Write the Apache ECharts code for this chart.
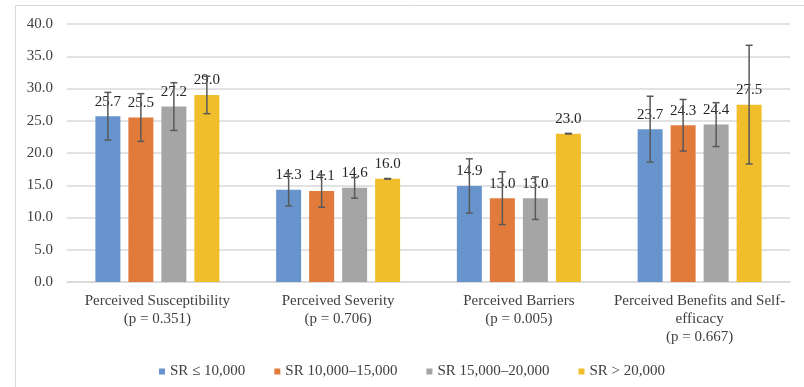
<!DOCTYPE html>
<html>
<head>
<meta charset="utf-8">
<script src="https://cdn.jsdelivr.net/npm/echarts@6/dist/echarts.min.js"></script>
<style>
  html, body { margin: 0; padding: 0; background: #fff; }
  #chart { width: 804px; height: 387px; }
</style>
</head>
<body>
<div id="chart"></div>
<script>
// Health-belief domains, mean scores by SR group, with ± SD error bars
const categories = [
  'Perceived Susceptibility\n(p = 0.351)',
  'Perceived Severity\n(p = 0.706)',
  'Perceived Barriers\n(p = 0.005)',
  'Perceived Benefits and Self-\nefficacy\n(p = 0.667)'
];
const groupNames = ['SR \u2264 10,000', 'SR 10,000\u201315,000', 'SR 15,000\u201320,000', 'SR > 20,000'];
const meansSR1 = [25.7, 14.3, 14.9, 23.7];
const meansSR2 = [25.5, 14.1, 13.0, 24.3];
const meansSR3 = [27.2, 14.6, 13.0, 24.4];
const meansSR4 = [29.0, 16.0, 23.0, 27.5];
const sdSR1 = [3.7, 2.5, 4.2, 5.1];
const sdSR2 = [3.7, 2.5, 4.1, 4.0];
const sdSR3 = [3.7, 1.6, 3.3, 3.4];
const sdSR4 = [2.9, 0.05, 0.05, 9.2];
const yTicks = [0, 5, 10, 15, 20, 25, 30, 35, 40];

const means = [meansSR1, meansSR2, meansSR3, meansSR4];
const sds = [sdSR1, sdSR2, sdSR3, sdSR4];
const colors = ['#6794CC', '#E07B3C', '#A5A5A5', '#F0BE2A'];

const BAR_W = 25;
const BAR_GAP = 8;
const FONT = '"Liberation Serif", "Times New Roman", serif';

const chart = echarts.init(document.getElementById('chart'), null, { renderer: 'canvas' });

const barSeries = means.map((vals, i) => ({
  name: groupNames[i],
  type: 'bar',
  data: vals,
  barWidth: BAR_W,
  barGap: (BAR_GAP / BAR_W * 100) + '%',
  itemStyle: { color: colors[i] },
  label: {
    show: true,
    position: 'top',
    distance: 7,
    formatter: p => p.value.toFixed(1),
    fontFamily: FONT,
    fontSize: 15,
    color: '#262626'
  },
  z: 2
}));

const errorSeries = means.map((vals, i) => ({
  type: 'custom',
  name: groupNames[i],
  data: vals.map((m, k) => [k, m - sds[i][k], m + sds[i][k]]),
  renderItem: (params, api) => {
    const k = api.value(0);
    const lo = api.coord([k, api.value(1)]);
    const hi = api.coord([k, api.value(2)]);
    const offset = (i - 1.5) * (BAR_W + BAR_GAP);
    const x = lo[0] + offset;
    const cap = 3.5;
    const style = { stroke: '#595959', lineWidth: 1.5 };
    return {
      type: 'group',
      children: [
        { type: 'line', shape: { x1: x, y1: hi[1], x2: x, y2: lo[1] }, style },
        { type: 'line', shape: { x1: x - cap, y1: hi[1], x2: x + cap, y2: hi[1] }, style },
        { type: 'line', shape: { x1: x - cap, y1: lo[1], x2: x + cap, y2: lo[1] }, style }
      ]
    };
  },
  encode: { x: 0, y: [1, 2] },
  z: 5,
  silent: true,
  tooltip: { show: false }
}));

chart.setOption({
  animation: false,
  backgroundColor: '#fff',
  graphic: [{
    type: 'rect',
    shape: { x: 15.5, y: 5.5, width: 900, height: 500 },
    style: { fill: 'none', stroke: '#D9D9D9', lineWidth: 1 },
    silent: true
  }],
  grid: { left: 67, right: 14, top: 24, bottom: 105 },
  legend: {
    data: groupNames,
    left: 154,
    top: 359,
    icon: 'rect',
    itemWidth: 6,
    itemHeight: 6,
    itemGap: 29,
    textStyle: { fontFamily: FONT, fontSize: 15, color: '#404040' }
  },
  xAxis: {
    type: 'category',
    data: categories,
    axisTick: { show: false },
    axisLine: { lineStyle: { color: '#D9D9D9', width: 1.5 } },
    axisLabel: {
      interval: 0,
      margin: 10,
      fontFamily: FONT,
      fontSize: 15,
      lineHeight: 18,
      color: '#404040'
    }
  },
  yAxis: {
    type: 'value',
    min: yTicks[0],
    max: yTicks[yTicks.length - 1],
    interval: yTicks[1] - yTicks[0],
    axisLine: { show: false },
    axisTick: { show: false },
    splitLine: { lineStyle: { color: '#D9D9D9', width: 1.5 } },
    axisLabel: {
      margin: 14,
      formatter: v => v.toFixed(1),
      fontFamily: FONT,
      fontSize: 15,
      color: '#404040'
    }
  },
  series: [...barSeries, ...errorSeries]
});
</script>
</body>
</html>
